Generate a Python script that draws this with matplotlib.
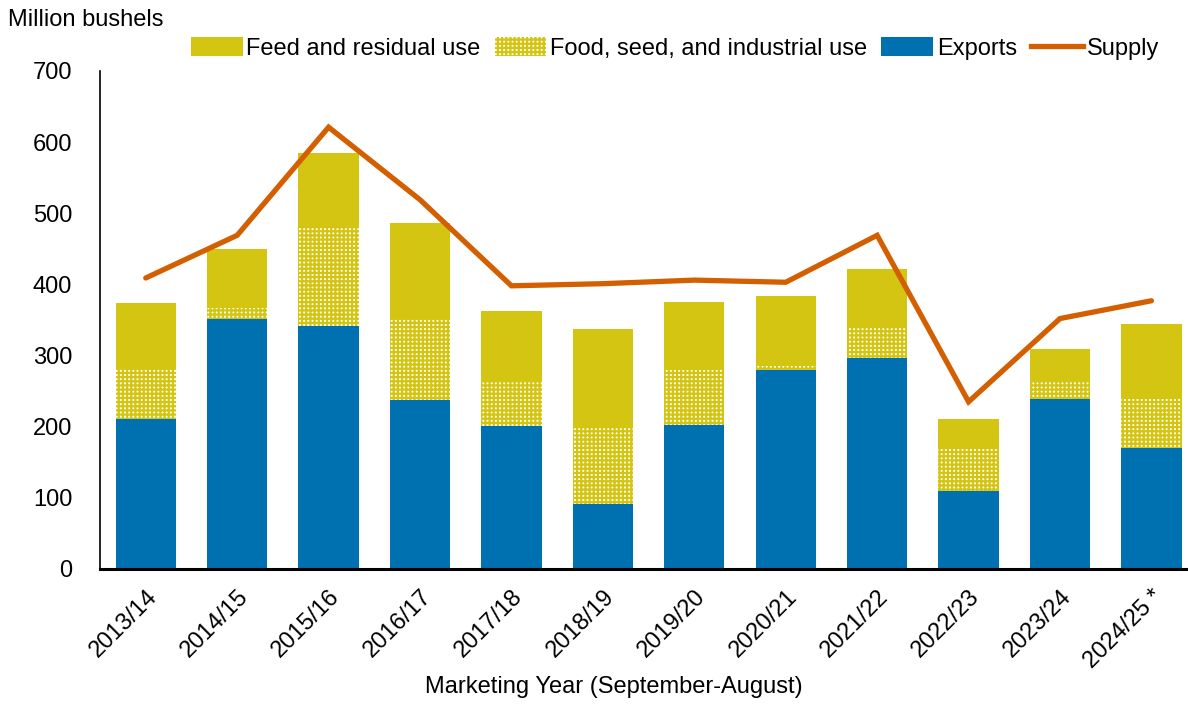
import matplotlib
matplotlib.use("Agg")
import matplotlib.pyplot as plt
import matplotlib.transforms as mtransforms
import numpy as np
from matplotlib.patches import Patch
from matplotlib.lines import Line2D

years = ["2013/14", "2014/15", "2015/16", "2016/17", "2017/18", "2018/19",
         "2019/20", "2020/21", "2021/22", "2022/23", "2023/24", "2024/25 *"]
exports = [211, 351, 342, 238, 201, 92, 203, 279, 297, 109, 239, 170]
food_seed_industrial = [70, 16, 139, 115, 62, 106, 76, 7, 45, 60, 25, 70]
feed_residual = [93, 83, 104, 133, 100, 139, 96, 97, 80, 42, 45, 104]
supply = [409, 469, 621, 519, 398, 401, 406, 403, 469, 235, 352, 377]

c_feed = "#D5C513"
c_exports = "#0071B0"
c_supply = "#D45F00"

plt.rcParams["font.family"] = ["Liberation Sans", "DejaVu Sans"]
plt.rcParams["hatch.linewidth"] = 1.6
FS = 17

fig = plt.figure(figsize=(11.88, 7.04), dpi=100)
ax = fig.add_axes([0.0842, 0.1918, 0.9158, 0.7074])

x = np.arange(len(years))
w = 0.66
exp = np.array(exports)
fsi = np.array(food_seed_industrial)
feed = np.array(feed_residual)

# food/seed/industrial: yellow grid over white gives a white-dot texture
ax.bar(x, exp, w, color=c_exports, zorder=2)
ax.bar(x, fsi, w, bottom=exp, facecolor="white", edgecolor=c_feed,
       linewidth=0, hatch="++++", zorder=2)
ax.bar(x, feed, w, bottom=exp + fsi, color=c_feed, zorder=2)
ax.plot(x, supply, color=c_supply, lw=3.8, solid_capstyle="round",
        solid_joinstyle="miter", zorder=3)

ax.set_xlim(-0.5, 11.4)
ax.set_ylim(0, 700)
ax.set_yticks(range(0, 701, 100))
ax.set_xticks(x)
ax.set_xticklabels(years, rotation=45, ha="right", va="top",
                   rotation_mode="anchor", fontsize=FS)
shift = mtransforms.ScaledTranslation(-5 / 100, 0, fig.dpi_scale_trans)
for lbl in ax.get_xticklabels():
    lbl.set_transform(lbl.get_transform() + shift)
ax.tick_params(axis="y", length=0, labelsize=FS, pad=20)
ax.tick_params(axis="x", length=0, pad=12)
for s in ["top", "right"]:
    ax.spines[s].set_visible(False)
ax.spines["left"].set_color("black")
ax.spines["left"].set_linewidth(1.2)
ax.spines["bottom"].set_color("black")
ax.spines["bottom"].set_linewidth(2.2)

ax.set_xlabel("Marketing Year (September-August)", fontsize=FS)
ax.xaxis.set_label_coords(0.472, -0.215)
fig.text(0.007, 0.972, "Million bushels", fontsize=FS, ha="left", va="center")

handles = [
    Patch(facecolor=c_feed, label="Feed and residual use"),
    Patch(facecolor="white", edgecolor=c_feed, linewidth=0, hatch="++++",
          label="Food, seed, and industrial use"),
    Patch(facecolor=c_exports, label="Exports"),
    Line2D([], [], color=c_supply, lw=3.8, label="Supply"),
]
fig.legend(handles=handles, loc="center", bbox_to_anchor=(0.568, 0.931),
           ncol=4, frameon=False, fontsize=FS, handlelength=2.2,
           handleheight=0.8, handletextpad=0.15, columnspacing=0.6)

fig.savefig("out.png", dpi=100)
